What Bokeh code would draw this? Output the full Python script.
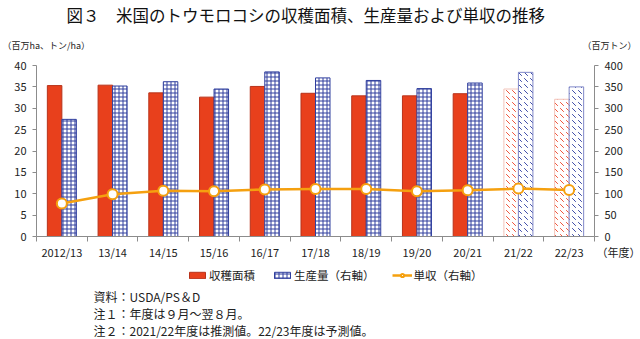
from bokeh.plotting import figure
from bokeh.layouts import column
from bokeh.models import (Range1d, LinearAxis, FixedTicker, Label, Legend, LegendItem,
                          ColumnDataSource, CDSView, BooleanFilter)
from bokeh.transform import dodge
from bokeh.embed import file_html
from bokeh.resources import INLINE

# ---- data ----
categories = ["2012/13", "13/14", "14/15", "15/16", "16/17", "17/18",
              "18/19", "19/20", "20/21", "21/22", "22/23"]
area = [35.3, 35.4, 33.6, 32.6, 35.1, 33.5, 32.9, 32.9, 33.4, 34.5, 32.1]          # 百万ha (left)
production = [274, 352, 362, 345, 385, 371, 365, 346, 359, 384, 350]                # 百万トン (right)
yield_ = [7.7, 9.9, 10.7, 10.6, 11.0, 11.1, 11.1, 10.6, 10.8, 11.2, 10.9]         # トン/ha
estimated = [False] * 9 + [True] * 2
left_ticks = [0, 5, 10, 15, 20, 25, 30, 35, 40]
right_ticks = [0, 50, 100, 150, 200, 250, 300, 350, 400]
x_unit_label = "　　　　　（年度）"

FONT = "Noto Sans CJK JP"
RED = "#E8401C"
BLUE = "#2F3E9E"
ORANGE = "#F5A00F"
AXIS = "#8C8C8C"

W = 640
TOP_H, MAIN_H, BOT_H = 58, 208, 73


def text_fig(h, xr=(0, 1)):
    f = figure(width=W, height=h, output_backend="svg", toolbar_location=None,
               x_range=Range1d(*xr), y_range=Range1d(0, 1),
               x_axis_type=None, y_axis_type=None,
               min_border=0, min_border_left=0, min_border_right=0,
               min_border_top=0, min_border_bottom=0)
    f.frame_align = False
    f.outline_line_color = None
    f.xgrid.grid_line_color = None
    f.ygrid.grid_line_color = None
    return f


def lab(f, text, x, y, size, align="left", color="#222222"):
    f.add_layout(Label(x=x, y=y, x_units="screen", y_units="screen", text=text,
                       text_font=FONT, text_font_size=size, text_align=align,
                       text_baseline="middle", text_color=color))


# ---------- top: title and unit labels ----------
top = text_fig(TOP_H)
lab(top, "図３　米国のトウモロコシの収穫面積、生産量および単収の推移", 66, TOP_H - 14.5, "16.5px", color="#111111")
lab(top, "（百万ha、トン/ha）", 2, TOP_H - 45, "9px")
lab(top, "（百万トン）", 636, TOP_H - 45, "9px", align="right")

# ---------- main chart ----------
idx = list(range(len(categories)))
src = ColumnDataSource(dict(x=idx, cat=categories, area=area,
                            production=production, yld=yield_))
actual = CDSView(filter=BooleanFilter([not e for e in estimated]))
proj = CDSView(filter=BooleanFilter(estimated))

p = figure(width=W, height=MAIN_H, output_backend="svg", toolbar_location=None,
           x_range=Range1d(-0.5, len(categories) - 0.5),
           y_range=Range1d(left_ticks[0], left_ticks[-1]),
           x_axis_type=None, y_axis_type=None,
           min_border_left=36, min_border_right=46,
           min_border_top=7, min_border_bottom=30)
p.frame_align = False
p.outline_line_color = None
p.extra_y_ranges = {"right": Range1d(right_ticks[0], right_ticks[-1])}


def style_axis(ax):
    ax.axis_line_color = AXIS
    ax.major_tick_line_color = AXIS
    ax.major_tick_out = 4
    ax.major_tick_in = 0
    ax.minor_tick_line_color = None
    ax.major_label_text_font = FONT
    ax.major_label_text_font_size = "11px"
    ax.major_label_text_color = "#222222"


yl = LinearAxis(ticker=FixedTicker(ticks=left_ticks))
style_axis(yl)
yl.major_label_standoff = 6
p.add_layout(yl, "left")

yr = LinearAxis(y_range_name="right", ticker=FixedTicker(ticks=right_ticks))
style_axis(yr)
yr.major_label_standoff = 6
p.add_layout(yr, "right")

overrides = {i: c for i, c in enumerate(categories)}
overrides[len(categories) - 0.5] = x_unit_label
xa = LinearAxis(ticker=FixedTicker(ticks=idx + [len(categories) - 0.5],
                                   minor_ticks=[i - 0.5 for i in range(len(categories) + 1)]),
                major_label_overrides=overrides)
style_axis(xa)
xa.major_tick_line_color = None
xa.major_tick_out = 0
xa.minor_tick_line_color = AXIS
xa.minor_tick_out = 5
xa.minor_tick_in = 0
xa.major_label_standoff = 2
p.add_layout(xa, "below")

p.ygrid.ticker = FixedTicker(ticks=left_ticks)
p.ygrid.grid_line_color = "#A6A6A6"
p.xgrid.grid_line_color = None

BW = 0.286
area_style = dict(fill_color=RED, line_color="#B8321A", line_width=1)
prod_style = dict(fill_color="white", line_color=BLUE, line_width=1,
                  hatch_pattern="cross", hatch_color=BLUE, hatch_scale=4, hatch_weight=1)
line_style = dict(line_color=ORANGE, line_width=2.5)
pts_style = dict(size=10, fill_color="white", line_color=ORANGE, line_width=2)

p.vbar(x=dodge("x", -BW / 2), top="area", width=BW, source=src, view=actual, **area_style)
p.vbar(x=dodge("x", BW / 2), top="production", width=BW, source=src, view=actual,
       y_range_name="right", **prod_style)
p.vbar(x=dodge("x", -BW / 2), top="area", width=BW, source=src, view=proj,
       fill_color="white", line_color="#F2C4BA", line_width=1,
       hatch_pattern="left_diagonal_dash", hatch_color="#F0543A", hatch_scale=6, hatch_weight=1)
p.vbar(x=dodge("x", BW / 2), top="production", width=BW, source=src, view=proj,
       y_range_name="right", fill_color="white", line_color="#8088C8", line_width=1,
       hatch_pattern="left_diagonal_dash", hatch_color="#3F4DA8", hatch_scale=6, hatch_weight=1)
p.line(x="x", y="yld", source=src, **line_style)
p.scatter(x="x", y="yld", source=src, **pts_style)

# ---------- bottom: legend and notes ----------
# legend key glyphs: same data, but this panel's x range lies outside it, so only the legend shows
bot = text_fig(BOT_H, xr=(-3, -2))
g1 = bot.vbar(x="x", top="area", width=0.1, source=src, **area_style)
g2 = bot.vbar(x="x", top="production", width=0.1, source=src, **prod_style)
g3 = bot.line(x="x", y="yld", source=src, **line_style)
g4 = bot.scatter(x="x", y="yld", source=src, **pts_style)
legend = Legend(items=[LegendItem(label="収穫面積", renderers=[g1]),
                       LegendItem(label="生産量（右軸）", renderers=[g2]),
                       LegendItem(label="単収（右軸）", renderers=[g3, g4])],
                orientation="horizontal", location=(187, BOT_H - 9 - 8),
                glyph_width=20, glyph_height=8, label_standoff=2, spacing=17,
                padding=0, margin=0, border_line_color=None, background_fill_alpha=0,
                label_text_font=FONT, label_text_font_size="11.5px",
                label_height=10, label_text_color="#222222")
bot.add_layout(legend, "center")

lab(bot, "資料：USDA/PS＆D", 93, BOT_H - 30, "12px")
lab(bot, "注１：年度は９月～翌８月。", 93, BOT_H - 47, "12px")
lab(bot, "注２：2021/22年度は推測値。22/23年度は予測値。", 93, BOT_H - 64, "12px")

layout = column(top, p, bot, spacing=0)
open("out.html", "w").write(file_html(layout, INLINE))
